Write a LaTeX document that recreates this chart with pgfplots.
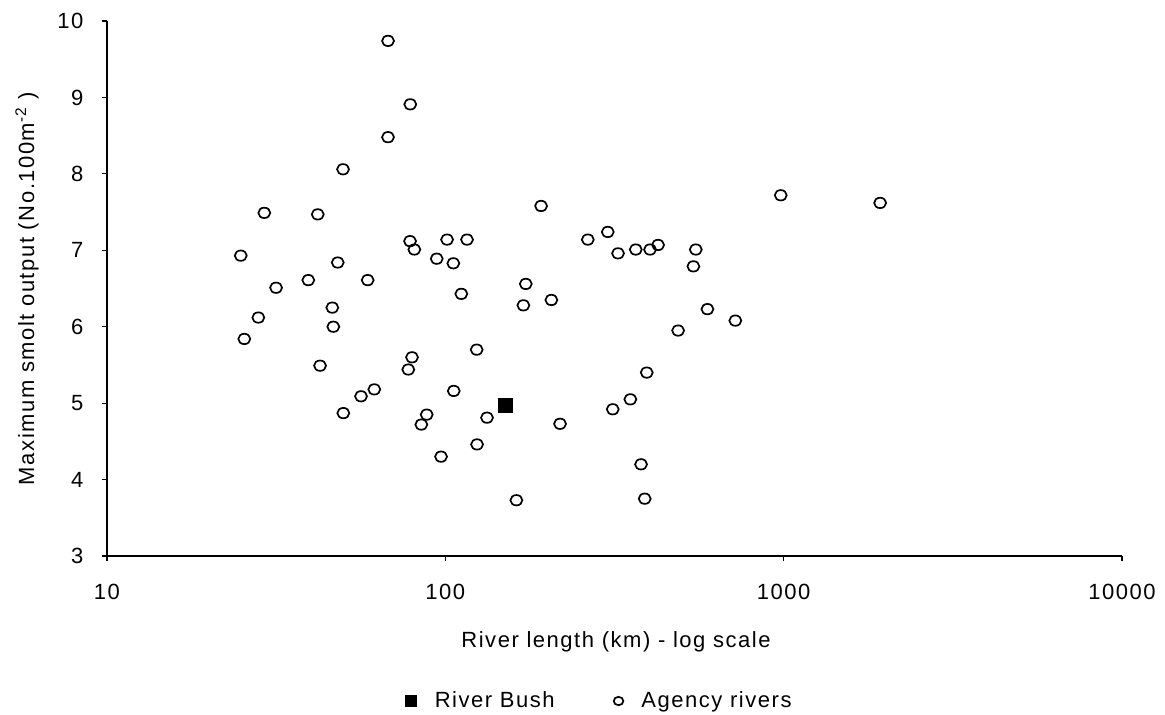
\documentclass[border=0pt]{standalone}
\usepackage{fontspec}
\setmainfont{Liberation Sans}[LetterSpace=7]
\usepackage{pgfplots}
\pgfplotsset{compat=1.18}
\pgfplotstableread{
x y
24.85 6.93
29.17 7.49
25.46 5.84
28.01 6.12
31.60 6.51
39.36 6.61
41.97 7.47
42.63 5.49
46.34 6.25
46.66 6.00
48.08 6.84
49.85 8.06
49.95 4.87
56.34 5.09
58.96 6.61
61.67 5.18
67.70 9.74
67.70 8.48
78.78 8.91
78.65 7.12
80.98 7.01
77.73 5.44
79.72 5.60
84.93 4.72
88.10 4.85
94.31 6.89
97.12 4.30
101.2 7.14
105.6 6.83
105.9 5.16
111.5 6.43
115.9 7.14
124.1 4.46
123.8 5.70
132.8 4.81
162.2 3.73
170.1 6.28
172.9 6.56
191.9 7.58
205.8 6.35
218.3 4.73
263.7 7.14
302.1 7.24
312.5 4.92
323.9 6.96
352.3 5.05
365.5 7.01
378.9 4.20
388.5 3.75
402.8 7.01
393.9 5.40
425.4 7.07
487.5 5.95
541.0 6.79
549.9 7.01
595.2 6.23
719.8 6.08
980.4 7.72
1928 7.62
}\agency
\begin{document}
\begin{tikzpicture}
\begin{axis}[
  at={(0pt,0pt)}, anchor=south west,
  scale only axis, width=507.5pt, height=267.5pt,
  xmode=log, xmin=10, xmax=10000, ymin=3, ymax=10,
  axis x line*=bottom, axis y line*=left,
  axis line style={line width=0.7pt, black},
  tick align=outside,
  major tick length=2.6pt,
  every tick/.style={black, line width=0.6pt},
  xminorticks=false, yminorticks=false,
  xtick={10,100,1000,10000}, xticklabels={10,100,1000,10000},
  ytick={3,4,5,6,7,8,9,10}, yticklabels={3,4,5,6,7,8,9,10},
  tick label style={font=\fontsize{11}{13}\selectfont},
  xticklabel style={anchor=center, yshift=-15.5pt},
  yticklabel style={anchor=east, inner sep=0pt, xshift=-9pt},
  xlabel={River length (km) - log scale},
  ylabel={Maximum smolt output (No.100m\textsuperscript{-2} )},
  label style={font=\fontsize{11}{13}\selectfont},
  xlabel style={at={(axis description cs:0.5015,0)}, anchor=base, yshift=-45.5pt},
  ylabel style={at={(axis description cs:-0.0788,0.5)}, anchor=center},
  legend columns=2,
  legend style={draw=none, fill=none, inner sep=0pt, font=\fontsize{11}{13}\selectfont,
    at={(axis description cs:0.2938,0)}, anchor=west, yshift=-72.5pt,
    /tikz/every even column/.append style={column sep=27.5pt}},
  clip=false,
]
\addplot[only marks, mark=square*, mark size=3.5pt, black,
  legend image post style={mark size=2.8pt}] coordinates {(150.2,4.97)};
\addlegendentry{\hspace{7pt}River Bush}
\addplot[only marks, mark=o, mark size=2.6pt, black,
  mark options={line width=0.85pt, xscale=1.15},
  legend image post style={mark size=2.1pt}] table {\agency};
\addlegendentry{\hspace{7pt}Agency rivers}
\end{axis}
\pgfresetboundingbox
\useasboundingbox (-53.5pt,-79pt) rectangle (529pt,278pt);
\end{tikzpicture}
\end{document}
